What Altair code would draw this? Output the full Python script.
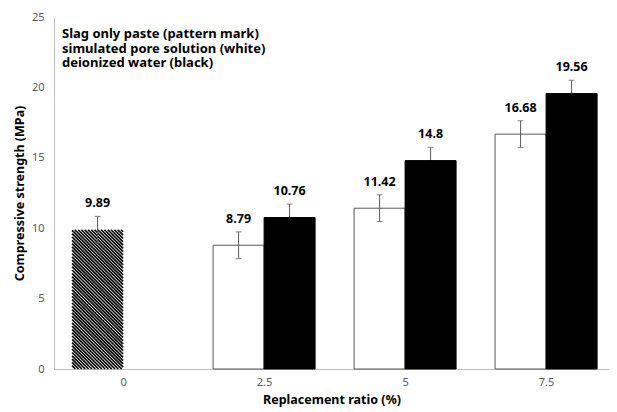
import numpy as np
import pandas as pd
import altair as alt

# ---- data ----
categories = ["0", "2.5", "5", "7.5"]
slag_value = [9.89]           # pattern (category "0")
slag_err = [0.95]
pore_value = [8.79, 11.42, 16.68]   # white (categories 2.5, 5, 7.5)
pore_err = [0.95, 0.95, 0.95]
di_value = [10.76, 14.8, 19.56]     # black
di_err = [0.95, 0.95, 0.95]
legend_lines = ["Slag only paste (pattern mark)",
                "simulated pore solution (white)",
                "deionized water (black)"]

# ---- layout constants ----
W, H = 555, 352
X_MAX = W / 141.0
Y_MAX = 25
BAR_W = 51 / 141.0
PX_X = W / X_MAX
PX_Y = H / Y_MAX
FONT = "Noto Sans"

rows = []
rows.append(dict(cat=0, v=slag_value[0], e=slag_err[0], kind="slag", side=-1))
for i in range(3):
    rows.append(dict(cat=i + 1, v=pore_value[i], e=pore_err[i], kind="pore", side=-1))
    rows.append(dict(cat=i + 1, v=di_value[i], e=di_err[i], kind="di", side=1))
df = pd.DataFrame(rows)
df["center"] = df["cat"] + 0.49
df["x0"] = np.where(df.side < 0, df.center - BAR_W, df.center)
df["x1"] = np.where(df.side < 0, df.center, df.center + BAR_W)
df["xm"] = (df.x0 + df.x1) / 2
df["lo"] = df.v - df.e
df["hi"] = df.v + df.e
df["label"] = df.v.map(lambda t: f"{t:g}")

# hatch lines for the pattern bar (clipped to bar rect), derived from its value
hatch = []
for _, r in df[df.kind == "slag"].iterrows():
    x0p, x1p = r.x0 * PX_X, r.x1 * PX_X
    ytop, ybot = (Y_MAX - r.v) * PX_Y, H
    for k in np.arange(x0p - ybot, x1p - ytop, 3.3):
        ya, yb = max(ytop, x0p - k), min(ybot, x1p - k)
        if yb > ya:
            hatch.append(dict(xa=(ya + k) / PX_X, xb=(yb + k) / PX_X,
                              va=Y_MAX - ya / PX_Y, vb=Y_MAX - yb / PX_Y))
hdf = pd.DataFrame(hatch)

xs = alt.Scale(domain=[0, X_MAX], nice=False, zero=False)
ys = alt.Scale(domain=[0, Y_MAX], nice=False)

label_expr = ("datum.value < 1 ? '0' : datum.value < 2 ? '2.5' : "
              "datum.value < 3 ? '5' : '7.5'")
x_axis = alt.Axis(values=[0.49, 1.49, 2.49, 3.49], labelExpr=label_expr, ticks=False,
                  grid=False, domainColor="#bfbfbf", labelColor="#595959",
                  labelFontSize=11, labelFont=FONT, labelPadding=7,
                  title="Replacement ratio (%)", titleFont=FONT, titleFontSize=12.5,
                  titleFontWeight="bold", titleColor="#000000", titlePadding=6)
y_axis = alt.Axis(values=[0, 5, 10, 15, 20, 25], ticks=False, grid=False,
                  domainColor="#bfbfbf", labelColor="#595959", labelFontSize=11,
                  labelFont=FONT, labelPadding=10,
                  title="Compressive strength (MPa)", titleFont=FONT, titleFontSize=12.5,
                  titleFontWeight="bold", titleColor="#000000", titlePadding=5)

base = alt.Chart(df)

left_bars = base.transform_filter("datum.kind != 'di'").mark_bar(
    stroke="#595959", strokeWidth=1, fill="white"
).encode(
    x=alt.X("x0:Q", scale=xs, axis=x_axis),
    x2="x1:Q",
    y=alt.Y("v:Q", scale=ys, axis=y_axis),
    y2=alt.datum(0),
    strokeOpacity=alt.condition("datum.kind == 'slag'", alt.value(0), alt.value(1)),
)

hatch_lines = alt.Chart(hdf).mark_rule(color="#000000", strokeWidth=1.7).encode(
    x=alt.X("xa:Q", scale=xs), x2="xb:Q",
    y=alt.Y("va:Q", scale=ys), y2="vb:Q",
)

err_rule = base.mark_rule(color="#595959", strokeWidth=1).encode(
    x=alt.X("xm:Q", scale=xs), y=alt.Y("lo:Q", scale=ys), y2="hi:Q"
)
cap_hi = base.mark_tick(color="#595959", orient="horizontal", size=6, thickness=1).encode(
    x=alt.X("xm:Q", scale=xs), y=alt.Y("hi:Q", scale=ys)
)
cap_lo = base.mark_tick(color="#595959", orient="horizontal", size=6, thickness=1).encode(
    x=alt.X("xm:Q", scale=xs), y=alt.Y("lo:Q", scale=ys)
)

black_bars = base.transform_filter("datum.kind == 'di'").mark_bar(
    fill="black", stroke="black", strokeWidth=1
).encode(
    x=alt.X("x0:Q", scale=xs), x2="x1:Q",
    y=alt.Y("v:Q", scale=ys), y2=alt.datum(0),
)

labels = base.mark_text(font=FONT, fontSize=12.5, fontWeight="bold", color="#000000",
                        baseline="bottom", dy=-6).encode(
    x=alt.X("xm:Q", scale=xs), y=alt.Y("hi:Q", scale=ys), text="label:N"
)

legend_layers = [
    alt.Chart(pd.DataFrame({"t": [line]})).mark_text(
        font=FONT, fontSize=13, fontWeight="bold", color="#000000",
        align="left", baseline="middle"
    ).encode(x=alt.value(8), y=alt.value(17 + 14.5 * i), text="t:N")
    for i, line in enumerate(legend_lines)
]

chart = alt.layer(left_bars, hatch_lines, err_rule, cap_hi, cap_lo, black_bars,
                  labels, *legend_layers).properties(
    width=W, height=H,
    autosize=alt.AutoSizeParams(type="none"),
    padding={"left": 46, "top": 9, "right": 0, "bottom": 42},
).configure_view(stroke=None)

chart.save("out.html", embed_options={"renderer": "svg", "actions": False})
